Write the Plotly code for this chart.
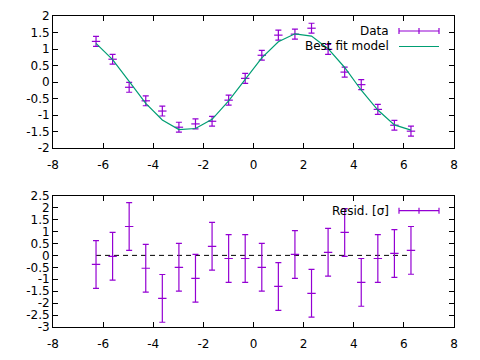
import numpy as np
import plotly.graph_objects as go

# ---- data ----
x_vals = [-6.283, -5.622, -4.961, -4.299, -3.638, -2.976, -2.315, -1.653, -0.992, -0.331,
          0.331, 0.992, 1.653, 2.315, 2.976, 3.638, 4.299, 4.961, 5.622, 6.283]
data_y = [1.23, 0.69, -0.16, -0.57, -0.88, -1.37, -1.27, -1.19, -0.55, 0.11,
          0.81, 1.42, 1.45, 1.63, 0.99, 0.30, -0.08, -0.83, -1.31, -1.49]
data_err = [0.15] * 20
model_y = [1.17, 0.68, 0.02, -0.65, -1.15, -1.44, -1.41, -1.13, -0.57, 0.09,
           0.73, 1.22, 1.46, 1.39, 1.01, 0.44, -0.25, -0.85, -1.30, -1.46]
resid = [-0.38, -0.04, 1.21, -0.54, -1.80, -0.50, -0.96, 0.38, -0.13, -0.13,
         -0.50, -1.30, 0.04, -1.59, 0.13, 0.96, -1.13, -0.13, 0.08, 0.21]
resid_err = [1.0] * 20

x_ticks = [-8, -6, -4, -2, 0, 2, 4, 6, 8]
y1_ticks = [2, 1.5, 1, 0.5, 0, -0.5, -1, -1.5, -2]
y2_ticks = [2.5, 2, 1.5, 1, 0.5, 0, -0.5, -1, -1.5, -2, -2.5, -3]

PURPLE = "#9400D3"
GREEN = "#009E73"
FONT = dict(family="DejaVu Sans", size=12, color="black")
W, H, OFF = 480, 360, 8   # page body has an 8px margin

def px_x(p):
    return (p - OFF) / W

def px_y(p):
    return 1 - (p - OFF) / H

def lab(v):
    return (f"{v:g}").replace("\u2212", "-")

fig = go.Figure()

fig.add_trace(go.Scatter(
    x=x_vals, y=data_y, mode="markers", xaxis="x", yaxis="y",
    marker=dict(symbol="line-ew", size=6, line=dict(color=PURPLE, width=1.2), color=PURPLE),
    error_y=dict(type="data", array=data_err, visible=True, color=PURPLE, thickness=1.2, width=3),
    showlegend=False))
fig.add_trace(go.Scatter(
    x=x_vals, y=model_y, mode="lines", xaxis="x", yaxis="y",
    line=dict(color=GREEN, width=1.2), showlegend=False))

fig.add_trace(go.Scatter(
    x=[x_vals[0], x_vals[-1]], y=[0, 0], mode="lines", xaxis="x2", yaxis="y2",
    line=dict(color="black", width=1, dash="5px,4px"), showlegend=False))
fig.add_trace(go.Scatter(
    x=x_vals, y=resid, mode="markers", xaxis="x2", yaxis="y2",
    marker=dict(symbol="line-ew", size=6, line=dict(color=PURPLE, width=1.2), color=PURPLE),
    error_y=dict(type="data", array=resid_err, visible=True, color=PURPLE, thickness=1.2, width=3),
    showlegend=False))

xd = [px_x(53), px_x(454)]
axis_common = dict(showline=True, linecolor="black", linewidth=1, mirror="allticks",
                   ticks="inside", ticklen=5, tickcolor="black", showgrid=False,
                   zeroline=False, tickfont=FONT, automargin=False)

fig.update_layout(
    width=W, height=H, margin=dict(l=0, r=0, t=0, b=0),
    paper_bgcolor="white", plot_bgcolor="white", font=FONT,
    xaxis=dict(domain=xd, range=[-8, 8], anchor="y", tickvals=x_ticks,
               ticktext=[lab(v) for v in x_ticks], ticklabelstandoff=6, **axis_common),
    yaxis=dict(domain=[px_y(148), px_y(16)], range=[-2, 2], anchor="x",
               tickvals=y1_ticks, ticktext=[lab(v) for v in y1_ticks], **axis_common),
    xaxis2=dict(domain=xd, range=[-8, 8], anchor="y2", tickvals=x_ticks,
                ticktext=[lab(v) for v in x_ticks], ticklabelstandoff=6, **axis_common),
    yaxis2=dict(domain=[px_y(327), px_y(195.7)], range=[-3, 2.5], anchor="x2",
                tickvals=y2_ticks, ticktext=[lab(v) for v in y2_ticks], **axis_common),
)

# ---- manual gnuplot-style keys (text right, sample to the right) ----
def key_entry(y_px, text, kind, color):
    yp = px_y(y_px)
    fig.add_annotation(x=px_x(391), y=yp, xref="paper", yref="paper", text=text,
                       showarrow=False, xanchor="right", yanchor="middle", font=FONT)
    x0, x1, xm = px_x(399), px_x(439), px_x(419)
    fig.add_shape(type="line", xref="paper", yref="paper", x0=x0, x1=x1, y0=yp, y1=yp,
                  line=dict(color=color, width=1.2))
    if kind == "err":
        h = 3 / H
        for xx in (x0, xm, x1):
            fig.add_shape(type="line", xref="paper", yref="paper", x0=xx, x1=xx,
                          y0=yp - h, y1=yp + h, line=dict(color=color, width=1.2))

key_entry(31, "Data", "err", PURPLE)
key_entry(46.5, "Best fit model", "line", GREEN)
key_entry(210.7, "Resid. [σ]", "err", PURPLE)

fig.write_html("out.html")
